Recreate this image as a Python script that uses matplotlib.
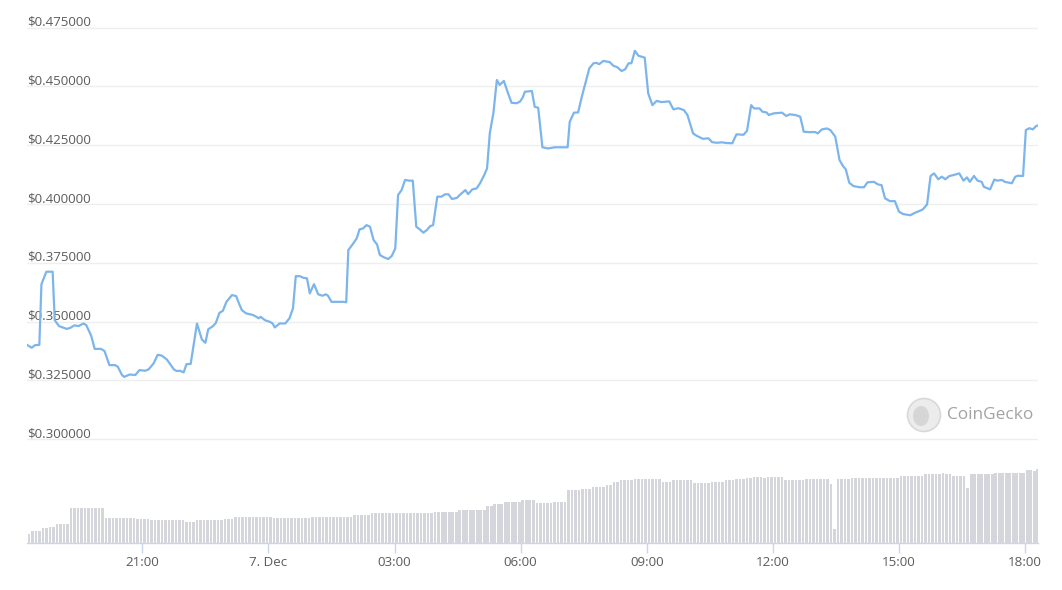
import numpy as np
import pandas as pd
import matplotlib
matplotlib.use('Agg')
import matplotlib.pyplot as plt
import matplotlib.dates as mdates
import matplotlib.transforms as mtransforms
from matplotlib.patches import Ellipse

plt.rcParams['font.family'] = ['Open Sans', 'DejaVu Sans']

# price trace, 6 Dec 18:16 -> 7 Dec 18:19 (HH:MM, rolls over at midnight)
price_times = [
    '18:16', '18:22', '18:27', '18:33', '18:36', '18:43', '18:52', '18:55', '19:01', '19:12',
    '19:17', '19:23', '19:29', '19:36', '19:40', '19:47', '19:52', '20:01', '20:06', '20:13',
    '20:21', '20:25', '20:31', '20:34', '20:42', '20:50', '20:56', '21:04', '21:09', '21:16',
    '21:22', '21:28', '21:35', '21:45', '21:49', '21:54', '21:59', '22:03', '22:09', '22:18',
    '22:25', '22:30', '22:34', '22:41', '22:45', '22:50', '22:55', '23:00', '23:08', '23:14',
    '23:17', '23:22', '23:28', '23:38', '23:43', '23:46', '23:49', '23:55', '00:02', '00:06',
    '00:09', '00:16', '00:24', '00:30', '00:35', '00:39', '00:45', '00:50', '00:55', '00:59',
    '01:05', '01:11', '01:17', '01:22', '01:25', '01:30', '01:47', '01:51', '01:54', '02:01',
    '02:06', '02:10', '02:15', '02:20', '02:25', '02:30', '02:35', '02:39', '02:45', '02:51',
    '02:56', '03:01', '03:05', '03:10', '03:15', '03:21', '03:26', '03:31', '03:36', '03:41',
    '03:46', '03:51', '03:55', '04:01', '04:07', '04:12', '04:17', '04:22', '04:29', '04:33',
    '04:41', '04:45', '04:51', '04:57', '05:02', '05:08', '05:12', '05:16', '05:21', '05:26',
    '05:30', '05:36', '05:42', '05:47', '05:54', '05:59', '06:03', '06:06', '06:16', '06:20',
    '06:25', '06:31', '06:39', '06:49', '07:07', '07:10', '07:16', '07:22', '07:27', '07:32',
    '07:38', '07:44', '07:48', '07:52', '07:58', '08:07', '08:12', '08:18', '08:24', '08:29',
    '08:34', '08:38', '08:43', '08:48', '08:57', '09:02', '09:08', '09:14', '09:21', '09:32',
    '09:38', '09:45', '09:53', '09:58', '10:06', '10:11', '10:20', '10:28', '10:33', '10:40',
    '10:47', '10:54', '11:02', '11:08', '11:18', '11:23', '11:29', '11:33', '11:41', '11:45',
    '11:51', '11:54', '12:01', '12:13', '12:19', '12:24', '12:32', '12:39', '12:44', '12:53',
    '13:00', '13:04', '13:10', '13:17', '13:22', '13:29', '13:35', '13:40', '13:44', '13:49',
    '13:55', '14:04', '14:10', '14:15', '14:24', '14:30', '14:35', '14:40', '14:47', '14:54',
    '15:00', '15:06', '15:16', '15:23', '15:29', '15:34', '15:40', '15:45', '15:50', '15:56',
    '16:01', '16:06', '16:12', '16:18', '16:26', '16:32', '16:37', '16:41', '16:47', '16:52',
    '16:58', '17:01', '17:10', '17:16', '17:20', '17:27', '17:31', '17:41', '17:46', '17:50',
    '17:57', '18:01', '18:06', '18:11', '18:16', '18:19',
]
price_values = [
    0.3400, 0.3389, 0.3400, 0.3401, 0.3659, 0.3712, 0.3712, 0.3506, 0.3481, 0.3469,
    0.3473, 0.3484, 0.3481, 0.3492, 0.3485, 0.3440, 0.3384, 0.3384, 0.3375, 0.3315,
    0.3315, 0.3308, 0.3273, 0.3265, 0.3275, 0.3273, 0.3294, 0.3291, 0.3297, 0.3322,
    0.3359, 0.3355, 0.3339, 0.3297, 0.3290, 0.3291, 0.3284, 0.3319, 0.3320, 0.3492,
    0.3424, 0.3410, 0.3467, 0.3481, 0.3495, 0.3537, 0.3546, 0.3584, 0.3613, 0.3608,
    0.3584, 0.3549, 0.3535, 0.3528, 0.3520, 0.3514, 0.3520, 0.3506, 0.3499, 0.3492,
    0.3475, 0.3492, 0.3492, 0.3514, 0.3556, 0.3693, 0.3693, 0.3686, 0.3684, 0.3620,
    0.3659, 0.3616, 0.3610, 0.3616, 0.3610, 0.3584, 0.3584, 0.3582, 0.3804, 0.3832,
    0.3854, 0.3892, 0.3896, 0.3910, 0.3903, 0.3847, 0.3828, 0.3783, 0.3773, 0.3766,
    0.3779, 0.3811, 0.4038, 0.4059, 0.4102, 0.4099, 0.4099, 0.3903, 0.3892, 0.3878,
    0.3889, 0.3906, 0.3910, 0.4031, 0.4031, 0.4041, 0.4041, 0.4021, 0.4026, 0.4038,
    0.4059, 0.4042, 0.4062, 0.4066, 0.4088, 0.4123, 0.4151, 0.4303, 0.4385, 0.4527,
    0.4506, 0.4523, 0.4470, 0.4430, 0.4428, 0.4435, 0.4453, 0.4477, 0.4480, 0.4413,
    0.4409, 0.4241, 0.4236, 0.4241, 0.4241, 0.4349, 0.4388, 0.4389, 0.4453, 0.4510,
    0.4577, 0.4598, 0.4600, 0.4594, 0.4608, 0.4603, 0.4588, 0.4581, 0.4565, 0.4572,
    0.4598, 0.4598, 0.4651, 0.4630, 0.4622, 0.4470, 0.4420, 0.4438, 0.4433, 0.4436,
    0.4402, 0.4407, 0.4399, 0.4378, 0.4300, 0.4290, 0.4277, 0.4279, 0.4263, 0.4260,
    0.4262, 0.4259, 0.4258, 0.4296, 0.4294, 0.4311, 0.4420, 0.4406, 0.4406, 0.4392,
    0.4389, 0.4378, 0.4385, 0.4388, 0.4374, 0.4381, 0.4378, 0.4371, 0.4307, 0.4305,
    0.4306, 0.4300, 0.4317, 0.4321, 0.4314, 0.4286, 0.4187, 0.4161, 0.4147, 0.4090,
    0.4076, 0.4071, 0.4071, 0.4092, 0.4094, 0.4083, 0.4080, 0.4024, 0.4012, 0.4012,
    0.3967, 0.3957, 0.3952, 0.3963, 0.3970, 0.3977, 0.3998, 0.4119, 0.4130, 0.4105,
    0.4116, 0.4105, 0.4119, 0.4123, 0.4130, 0.4099, 0.4113, 0.4094, 0.4119, 0.4099,
    0.4094, 0.4073, 0.4062, 0.4104, 0.4099, 0.4102, 0.4094, 0.4088, 0.4116, 0.4120,
    0.4119, 0.4314, 0.4322, 0.4317, 0.4332, 0.4334,
]

# rolling 24h volume (arbitrary units), one bar every 5 min, run-length encoded
vol_levels = [9, 12.3, 15, 16.3, 19, 35.5, 25.3, 24, 23, 21.3,
              23, 24.5, 26.3, 25.3, 26.3, 27.7, 30, 31.3, 33, 37,
              38.7, 41, 43, 39.7, 41.3, 53, 54.3, 56.3, 57.7, 61.3,
              63, 64, 61.3, 63, 60.3, 61.5, 63, 64, 65, 66,
              65, 66, 63, 64, 58.7, 13.7, 64, 65, 67.3, 68.7,
              69.7, 68.7, 67.3, 54.7, 68.7, 69.7, 73, 72.3, 73.7]
vol_counts = [1, 3, 2, 2, 4, 10, 9, 4, 10, 3,
              8, 3, 11, 11, 12, 5, 18, 7, 8, 2,
              3, 5, 4, 5, 4, 4, 3, 4, 2, 2,
              4, 8, 3, 6, 5, 4, 3, 3, 2, 3,
              1, 5, 6, 7, 1, 1, 4, 14, 7, 5,
              1, 2, 4, 1, 7, 9, 2, 1, 1]
vol_start = '2021-12-06 18:18'

price_ticks = [0.300, 0.325, 0.350, 0.375, 0.400, 0.425, 0.450, 0.475]
time_ticks = ['2021-12-06 21:00', '2021-12-07 00:00', '2021-12-07 03:00', '2021-12-07 06:00',
              '2021-12-07 09:00', '2021-12-07 12:00', '2021-12-07 15:00', '2021-12-07 18:00']
time_labels = ['21:00', '7. Dec', '03:00', '06:00', '09:00', '12:00', '15:00', '18:00']


def stamps(hhmm, first_day='2021-12-06'):
    day = pd.Timestamp(first_day)
    out = []
    for s in hhmm:
        t = day + pd.Timedelta(hours=int(s[:2]), minutes=int(s[3:]))
        if out and t < out[-1]:
            day += pd.Timedelta(days=1)
            t += pd.Timedelta(days=1)
        out.append(t)
    return out


px = stamps(price_times)
vol = np.repeat(vol_levels, vol_counts)
vol_x = pd.date_range(vol_start, periods=len(vol), freq='5min')

W, H = 1062, 590
fig = plt.figure(figsize=(W / 100, H / 100), dpi=100)
left, right = 27 / W, 1038 / W
ax = fig.add_axes([left, 1 - 445 / H, right - left, 435 / H])
axv = fig.add_axes([left, 1 - 543 / H, right - left, 98 / H], sharex=ax)

x0 = pd.Timestamp('2021-12-06 18:15:24')
x1 = pd.Timestamp('2021-12-07 18:18:20')

# price panel
ax.set_ylim(0.29755, 0.48244)
trans = mtransforms.blended_transform_factory(ax.transAxes, ax.transData)
for v in price_ticks:
    ax.axhline(v, color='#efefef', lw=1, zorder=0)
    ax.annotate(f'${v:.6f}', xy=(0, v), xycoords=trans, xytext=(0, 1.3),
                textcoords='offset points', ha='left', va='baseline',
                fontsize=9.6, color='#5c5c5c')
ax.plot(px, price_values, color='#7cb5ec', lw=1.6, solid_joinstyle='round', zorder=3)
for s in ax.spines.values():
    s.set_visible(False)
ax.set_xticks([])
ax.set_yticks([])
ax.tick_params(axis='x', which='both', bottom=False, labelbottom=False)

# watermark
fig.patches.append(Ellipse((924 / W, 1 - 415 / H), 33 / W, 33 / H, transform=fig.transFigure,
                           facecolor='#ececec', edgecolor='#d9d9d9', lw=1.2, zorder=1))
fig.patches.append(Ellipse((921 / W, 1 - 416 / H), 16 / W, 20 / H, transform=fig.transFigure,
                           facecolor='#d6d6d6', edgecolor='none', zorder=2))
fig.text(947 / W, 1 - 415 / H, 'CoinGecko', fontsize=12.4, color='#a3a3a3',
         ha='left', va='center')

# volume panel
axv.bar(vol_x, vol, width=3.7 / 1440, color='#d4d6db', align='center', zorder=2)
axv.set_ylim(0, 98)
axv.set_xlim(x0, x1)
for k in ['top', 'right', 'left']:
    axv.spines[k].set_visible(False)
axv.spines['bottom'].set_color('#ccd6eb')
axv.spines['bottom'].set_linewidth(1)
axv.set_yticks([])
axv.set_xticks(pd.to_datetime(time_ticks))
axv.set_xticklabels(time_labels)
axv.tick_params(axis='x', length=7.2, width=1, color='#ccd6eb', pad=2.5,
                labelsize=9.6, labelcolor='#5c5c5c')
axv.set_facecolor('none')

fig.savefig('out.png', dpi=100, facecolor='white')
